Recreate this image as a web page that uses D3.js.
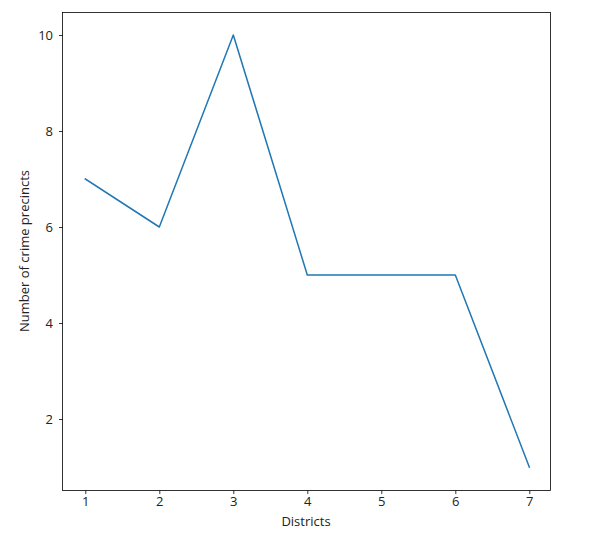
<!DOCTYPE html>
<html><head><meta charset="utf-8">
<script src="https://cdn.jsdelivr.net/npm/d3@7"></script>
<style>body{margin:0;background:#fff}svg{display:block;font-family:"Open Sans",sans-serif}</style>
</head><body><svg id="c" width="589" height="541"></svg>
<script>
const districts = [1, 2, 3, 4, 5, 6, 7];
const precincts = [7, 6, 10, 5, 5, 5, 1];
const xTicks = [1, 2, 3, 4, 5, 6, 7];
const yTicks = [2, 4, 6, 8, 10];

const L = 62.5, R = 550.5, T = 12.5, B = 490.5;
const FONT = "Open Sans", FS = 13;
const svg = d3.select("#c");
const x = d3.scaleLinear().range([L, R]);
const y = d3.scaleLinear().range([B, T]);
// calibrate: x(1)=85.3, x(7)=529.3 ; y(10)=35, y(1)=467
x.domain([1 - (85.3 - L) / 74, 7 + (R - 529.3) / 74]);
y.domain([1 - (B - 467) / 48, 10 + (35 - T) / 48]);

const line = d3.line().x((d, i) => x(districts[i])).y(d => y(d));
svg.append("path").datum(precincts).attr("d", line)
  .attr("fill", "none").attr("stroke", "#1f77b4").attr("stroke-width", 1.5)
  .attr("stroke-linejoin", "round").attr("stroke-linecap", "square");

const xa = svg.append("g").attr("transform", `translate(0,${B})`)
  .call(d3.axisBottom(x).tickValues(xTicks).tickSize(3.5).tickPadding(3).tickFormat(d3.format("d")));
const ya = svg.append("g").attr("transform", `translate(${L},0)`)
  .call(d3.axisLeft(y).tickValues(yTicks).tickSize(3.5).tickPadding(6).tickFormat(d3.format("d")));
[xa, ya].forEach(g => {
  g.select(".domain").remove();
  g.selectAll("line").attr("stroke", "#000").attr("stroke-width", 0.8);
  g.selectAll("text").attr("font-size", FS).attr("fill", "#222").attr("font-family", FONT);
});
svg.append("rect").attr("x", L).attr("y", T).attr("width", R - L).attr("height", B - T)
  .attr("fill", "none").attr("stroke", "#000").attr("stroke-width", 0.8);

svg.append("text").attr("x", 306).attr("y", 526).attr("text-anchor", "middle")
  .attr("font-size", FS).attr("fill", "#222").attr("font-family", FONT).text("Districts");
svg.append("text").attr("transform", `translate(29,251) rotate(-90)`)
  .attr("text-anchor", "middle").attr("font-size", FS).attr("fill", "#222").attr("font-family", FONT)
  .text("Number of crime precincts");
</script></body></html>
